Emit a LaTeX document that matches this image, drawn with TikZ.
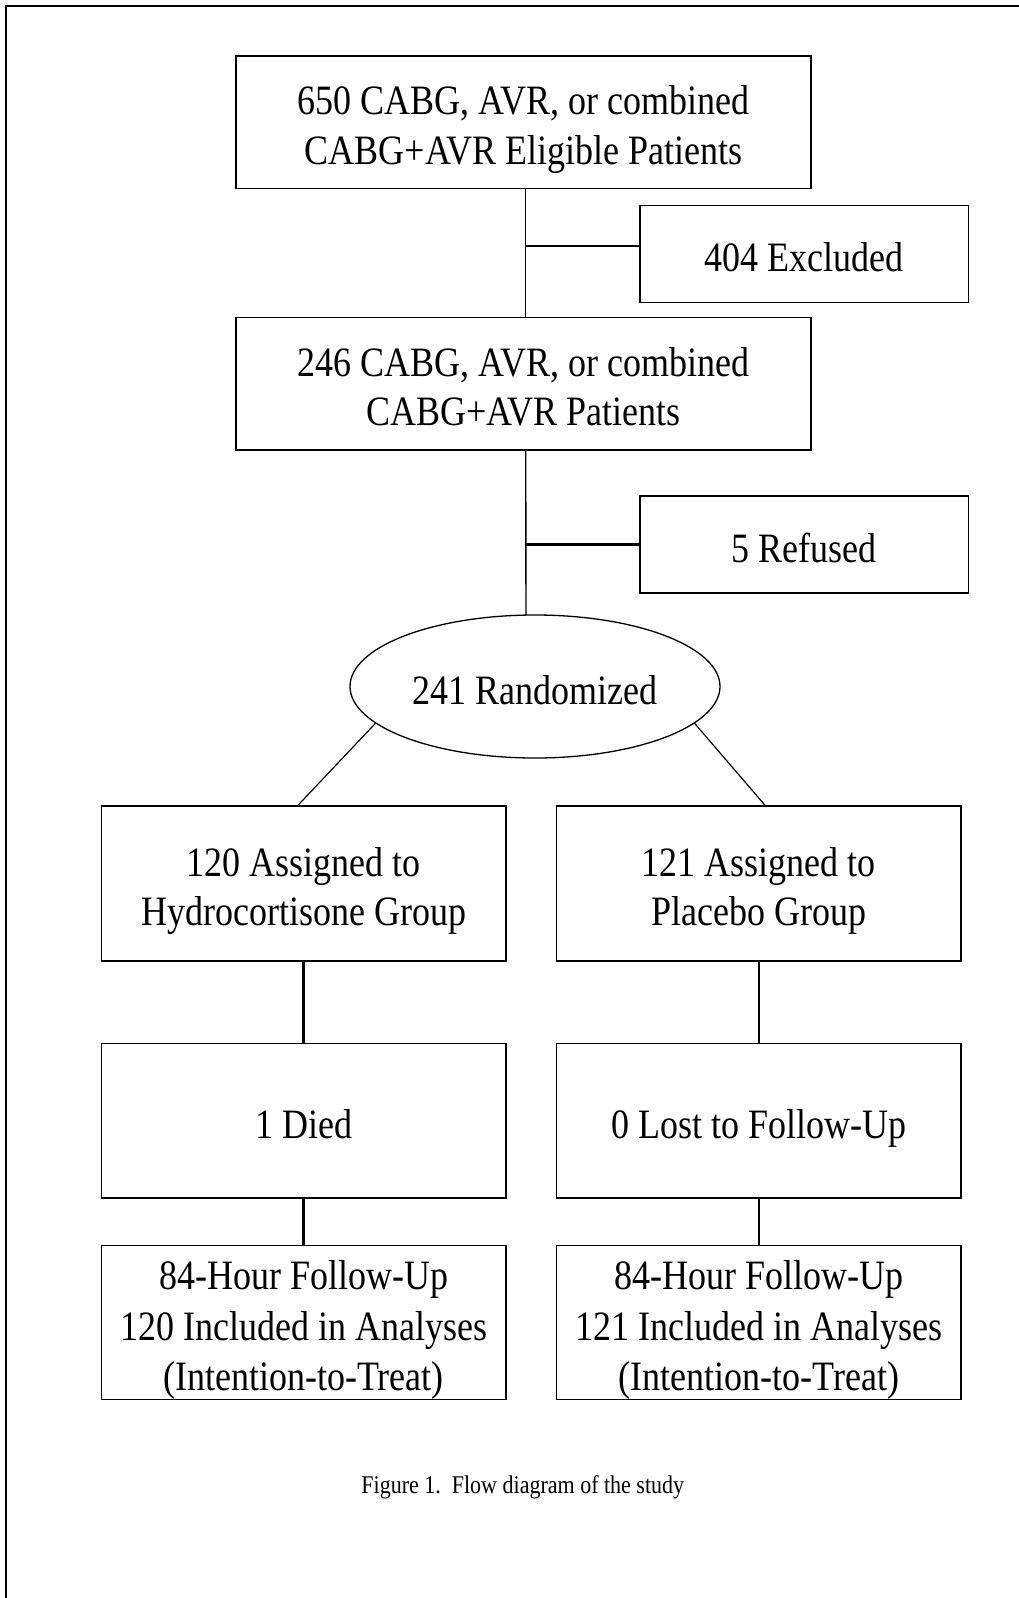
\documentclass[tikz,border=0pt]{standalone}
\usepackage{fontspec}
\setmainfont{Liberation Serif}
\newfontfamily\tallfont[FakeStretch=0.861]{Liberation Serif}
\newfontfamily\capfont[FakeStretch=0.863]{Liberation Serif}
\usetikzlibrary{shapes.geometric}
\newcommand\tst{\rule{0pt}{47pt}}
\newcommand\bst{\rule[-12pt]{0pt}{0pt}}
\newcommand\tstt{\rule{0pt}{44pt}}
\newcommand\bstt{\rule[-9pt]{0pt}{0pt}}
\begin{document}
\begin{tikzpicture}[x=1pt,y=-1pt,
  box/.style={draw, line width=1.5pt, inner sep=0pt, align=center,
    font=\tallfont\fontsize{41.8}{49.5}\selectfont},
  wbox/.style={box, minimum width=575pt, minimum height=132.5pt},
  sbox/.style={box, minimum width=328.5pt, minimum height=97pt},
  cbox/.style={box, minimum width=404.5pt, minimum height=154.5pt},
  trunk/.style={line width=1.4pt},
  sidelink/.style={line width=2.7pt},
  diag/.style={line width=1.2pt},
  lcol/.style={line width=2.3pt},
  rcol/.style={line width=1.4pt}]
\useasboundingbox (0,0) rectangle (1019,1598);
\begin{scope}
  \clip (0,0) rectangle (1019,1598);
  \draw[line width=2pt] (5.7,1640) -- (5.7,5.7) -- (1060,5.7);
\end{scope}

% top column
\node[wbox] (b1) at (523.5,122.2)
  {\tst 650 CABG, AVR, or combined\\ CABG+AVR Eligible Patients\bst};
\node[sbox] (excl) at (804.3,254) {\tst 404 Excluded\bst};
\node[wbox] (b2) at (523.5,383.7)
  {\tst 246 CABG, AVR, or combined\\ CABG+AVR Patients\bst};
\node[sbox] (ref) at (804.3,544.5) {\tst 5 Refused\bst};
\node[draw, ellipse, line width=1.3pt, inner sep=0pt,
  minimum width=370pt, minimum height=143pt,
  font=\tallfont\fontsize{41.8}{49.5}\selectfont] (ell) at (535,686.5) {\tst 241 Randomized\bst};

% two arms
\node[cbox, minimum height=155pt] (h1) at (303.6,883.5)
  {\tst 120 Assigned to\\ Hydrocortisone Group\bst};
\node[cbox, minimum height=155pt] (p1) at (758.8,883.5)
  {\tst 121 Assigned to\\ Placebo Group\bst};
\node[cbox] (h2) at (303.6,1120.7) {\tst 1 Died\bst};
\node[cbox] (p2) at (758.8,1120.7) {\tst 0 Lost to Follow-Up\bst};
\node[cbox, minimum height=153pt, font=\tallfont\fontsize{41.8}{50.5}\selectfont] (h3) at (303.6,1322.5)
  {\tstt 84-Hour Follow-Up\\ 120 Included in Analyses\\ (Intention-to-Treat)\bstt};
\node[cbox, minimum height=153pt, font=\tallfont\fontsize{41.8}{50.5}\selectfont] (p3) at (758.8,1322.5)
  {\tstt 84-Hour Follow-Up\\ 121 Included in Analyses\\ (Intention-to-Treat)\bstt};

\node[anchor=base, inner sep=0pt, font=\capfont\fontsize{25.5}{30}\selectfont] (cap) at (522.8,1493)
  {Figure 1.\ \ Flow diagram of the study};

% connectors
\coordinate (t1) at ([xshift=2.2pt]b1.south);
\draw[trunk] (t1) -- (t1 |- b2.north);
\coordinate (j1) at (526,246);
\draw[sidelink] (j1) -- (j1 -| excl.west);

\coordinate (t2) at ([xshift=2.2pt]b2.south);
\draw[trunk] (t2) -- (526,615.2);
\coordinate (j2) at (t2 |- ref.west);
\draw[sidelink] (j2) -- (ref.west);

\draw[diag] (ell.193.3) -- ([xshift=-5.6pt]h1.north);
\draw[diag] (ell.347) -- ([xshift=6.2pt]p1.north);

\draw[lcol] (h1.south) -- (h2.north);
\draw[lcol] (h2.south) -- (h3.north);
\draw[rcol] (p1.south) -- (p2.north);
\draw[rcol] (p2.south) -- (p3.north);
\end{tikzpicture}
\end{document}
